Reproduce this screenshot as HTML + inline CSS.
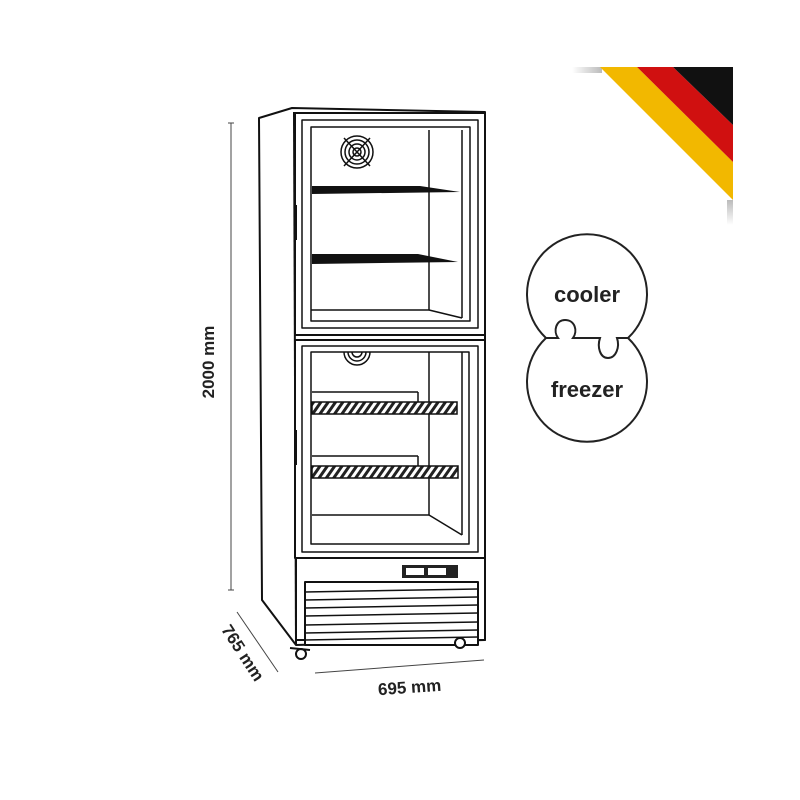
<!DOCTYPE html>
<html><head><meta charset="utf-8"><style>
html,body{margin:0;padding:0;background:#fff;width:800px;height:800px;overflow:hidden}
svg text{font-family:"Liberation Sans",sans-serif;font-weight:bold;fill:#222}
</style></head><body>
<svg width="800" height="800" viewBox="0 0 800 800" xmlns="http://www.w3.org/2000/svg">
<defs>
<linearGradient id="sh1" x1="0" y1="0" x2="1" y2="0"><stop offset="0" stop-color="#fff"/><stop offset="1" stop-color="#bbb"/></linearGradient>
<linearGradient id="sh2" x1="0" y1="0" x2="0" y2="1"><stop offset="0" stop-color="#bbb"/><stop offset="1" stop-color="#fff"/></linearGradient>
<pattern id="hatch" width="6" height="6" patternUnits="userSpaceOnUse" patternTransform="rotate(35)"><rect width="6" height="6" fill="#fff"/><rect width="3" height="6" fill="#222"/></pattern>
</defs>
<!-- flag -->
<rect x="572" y="67" width="30" height="6" fill="url(#sh1)"/>
<rect x="727" y="200" width="6" height="25" fill="url(#sh2)"/>
<polygon points="600,67 637,67 733,162 733,200" fill="#f2b800"/>
<polygon points="637,67 673,67 733,125 733,162" fill="#d01010"/>
<polygon points="673,67 733,67 733,125" fill="#111"/>
<!-- puzzle -->
<g fill="none" stroke="#222" stroke-width="2">
<path d="M546,338 A60,60 0 1,1 628,338"/>
<path d="M628,338 A60,60 0 1,1 546,338"/>
<path d="M546,338 L558,338 C553,331 556,320 565,320 C575,320 578,331 573,338 L600,338 C597,347 600,358 608,358 C616,358 620,347 617,338 L628,338"/>
</g>
<text x="587" y="302" font-size="22" text-anchor="middle">cooler</text>
<text x="587" y="397" font-size="22" text-anchor="middle">freezer</text>
<!-- dimensions -->
<g stroke="#444" stroke-width="1" fill="none">
<line x1="231" y1="123" x2="231" y2="590"/><line x1="228" y1="123" x2="234" y2="123"/><line x1="228" y1="590" x2="234" y2="590"/>
<line x1="237" y1="612" x2="278" y2="672"/>
<line x1="315" y1="673" x2="484" y2="660"/>
</g>
<text transform="translate(214,362) rotate(-90)" font-size="17" text-anchor="middle">2000 mm</text>
<text transform="translate(238,656) rotate(57)" font-size="17" text-anchor="middle">765 mm</text>
<text transform="translate(410,693) rotate(-4)" font-size="17" text-anchor="middle">695 mm</text>
<!-- fridge -->
<g stroke="#111" stroke-width="2" fill="#fff" stroke-linejoin="round">
<path d="M259,118 L292,108 L485,112 L485,640 L296,645 L262,600 Z"/>
<line x1="294" y1="112" x2="296" y2="645"/>
<rect x="295" y="113" width="190" height="222"/>
<rect x="302" y="120" width="176" height="208" stroke-width="1.5"/>
<rect x="311" y="127" width="159" height="194" stroke-width="1.5"/>
<line x1="429" y1="130" x2="429" y2="310" stroke-width="1.5"/>
<line x1="462" y1="130" x2="462" y2="318" stroke-width="1.5"/>
<line x1="311" y1="310" x2="429" y2="310" stroke-width="1.5"/>
<line x1="429" y1="310" x2="462" y2="318" stroke-width="1.5"/>
<rect x="295" y="340" width="190" height="218"/>
<rect x="302" y="346" width="176" height="206" stroke-width="1.5"/>
<rect x="311" y="352" width="158" height="192" stroke-width="1.5"/>
<line x1="429" y1="352" x2="429" y2="515" stroke-width="1.5"/>
<line x1="462" y1="352" x2="462" y2="535" stroke-width="1.5"/>
<line x1="312" y1="515" x2="429" y2="515" stroke-width="1.5"/>
<line x1="429" y1="515" x2="462" y2="535" stroke-width="1.5"/>
<rect x="296" y="558" width="189" height="82"/>
<rect x="305" y="582" width="173" height="63"/>
</g>
<rect x="294" y="205" width="3" height="35" fill="#111"/>
<rect x="294" y="430" width="3" height="35" fill="#111"/>
<polygon points="312,186 420,186 460,192 312,194" fill="#111"/>
<polygon points="312,254 418,254 458,262 312,264" fill="#111"/>
<g fill="none" stroke="#111" stroke-width="1.5">
<circle cx="357" cy="152" r="16"/><circle cx="357" cy="152" r="12"/><circle cx="357" cy="152" r="8"/><circle cx="357" cy="152" r="4"/>
<line x1="344" y1="138" x2="370" y2="166"/><line x1="370" y1="138" x2="344" y2="166"/>
<path d="M344,352 A13,13 0 0,0 370,352"/><path d="M348,352 A9,9 0 0,0 366,352"/><path d="M352,352 A5,5 0 0,0 362,352"/>
</g>
<g stroke="#111" stroke-width="1.5">
<rect x="312" y="402" width="145" height="12" fill="url(#hatch)"/>
<line x1="312" y1="392" x2="418" y2="392"/><line x1="418" y1="392" x2="418" y2="402"/>
<rect x="312" y="466" width="146" height="12" fill="url(#hatch)"/>
<line x1="312" y1="456" x2="418" y2="456"/><line x1="418" y1="456" x2="418" y2="466"/>
</g>
<g stroke="#111" stroke-width="1.5">
<line x1="305" y1="592" x2="478" y2="589"/><line x1="305" y1="600" x2="478" y2="597"/>
<line x1="305" y1="608" x2="478" y2="605"/><line x1="305" y1="616" x2="478" y2="613"/>
<line x1="305" y1="625" x2="478" y2="622"/><line x1="305" y1="633" x2="478" y2="630"/>
<line x1="305" y1="640" x2="478" y2="637"/>
</g>
<rect x="402" y="565" width="56" height="13" fill="#222"/>
<rect x="406" y="568" width="18" height="7" fill="#fff"/>
<rect x="428" y="568" width="18" height="7" fill="#fff"/>
<g fill="#fff" stroke="#111" stroke-width="2">
<circle cx="301" cy="654" r="5"/><circle cx="460" cy="643" r="5"/>
<path d="M290,648 L310,650"/>
</g>
</svg>
</body></html>
